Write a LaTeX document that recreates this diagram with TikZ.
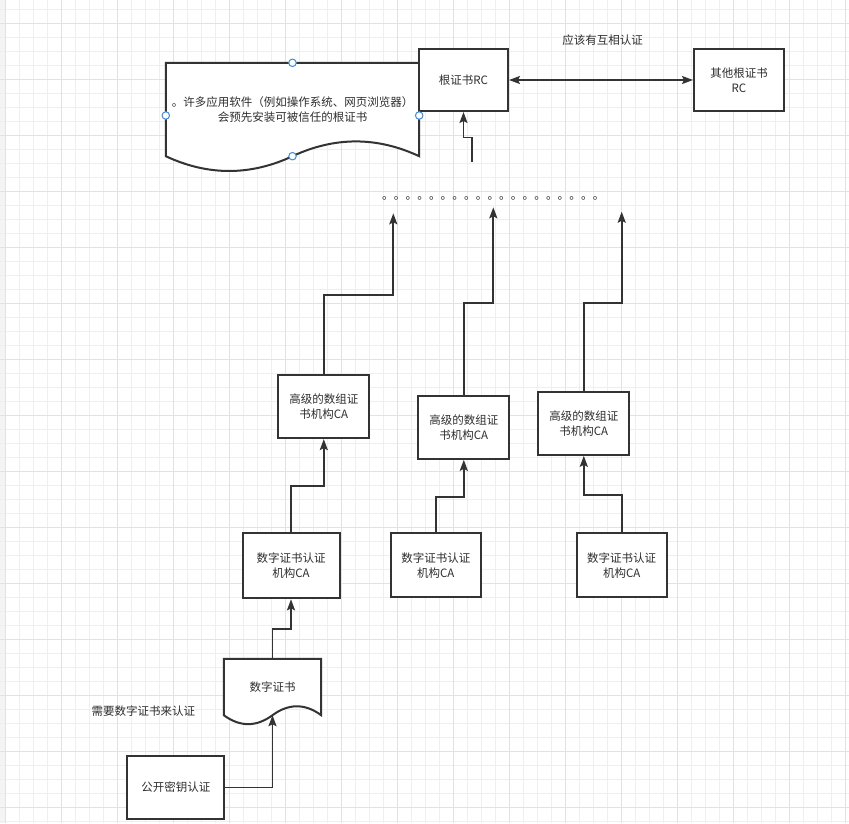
\documentclass[tikz,border=0pt]{standalone}
\usepackage{fontspec}
\setmainfont{Noto Sans CJK SC}
\usetikzlibrary{arrows.meta,positioning,calc}
\definecolor{ln}{HTML}{333333}
\definecolor{txt}{HTML}{2E2E2E}
\definecolor{gridmin}{HTML}{EFEFEF}
\definecolor{gridmaj}{HTML}{E2E2E2}
\definecolor{hb}{HTML}{3D8BE8}
\newcommand{\fsz}{\fontsize{11.5}{15}\selectfont}
\pgfdeclarelayer{grid}
\pgfdeclarelayer{shape}
\pgfsetlayers{grid,shape,main}
\tikzset{
  >={Stealth[length=11pt,width=8pt,inset=2pt]},
  cbox/.style={
    rectangle, draw=ln, line width=2pt, fill=white,
    text=txt, font=\fsz, align=center, inner sep=0pt
  },
  docbox/.style={
    rectangle, draw=none, text=txt, font=\fsz,
    align=center, inner sep=0pt
  },
  docline/.style={draw=ln, line width=2pt, fill=white},
  lbl/.style={text=txt, font=\fsz, inner sep=0pt},
  arr/.style={->, line width=1.8pt, draw=ln},
  darr/.style={<->, line width=1.8pt, draw=ln},
  handle/.style={
    circle, draw=hb, fill=white, line width=1pt,
    minimum size=7.5pt, inner sep=0pt
  },
  gmin/.style={draw=gridmin, line width=0.8pt},
  gmaj/.style={draw=gridmaj, line width=1pt}
}

\begin{document}
\begin{tikzpicture}[x=1pt, y=-1pt]
\useasboundingbox (0,0) rectangle (849,823);

% ── Background grid ───────────────────────────────────────────────
\begin{pgfonlayer}{grid}
\fill[white] (0,0) rectangle (849,823);
\fill[gridmin!70] (0,0) rectangle (5.3,823);
\foreach \k in {0,...,60}
  \draw[gmin] ({5.3+14*\k},0) -- ({5.3+14*\k},823);
\foreach \k in {0,...,58}
  \draw[gmin] (0,{9.3+14*\k}) -- (849,{9.3+14*\k});
\foreach \k in {0,...,15}
  \draw[gmaj] ({5.3+56*\k},0) -- ({5.3+56*\k},823);
\foreach \k in {0,...,14}
  \draw[gmaj] (0,{23.3+56*\k}) -- (849,{23.3+56*\k});
\end{pgfonlayer}

% ── Top row: trusted software, root certificates ──────────────────
\node[docbox, minimum width=253pt, minimum height=93pt] (trust) at (292.5,109.5)
  {。许多应用软件（例如操作系统、网页浏览器）\\会预先安装可被信任的根证书};
\begin{pgfonlayer}{shape}
\draw[docline] (trust.north west) -- (trust.north east) -- (trust.south east)
  .. controls +(-42.2,-19.7) and +(42.2,-19.7) .. (trust.south)
  .. controls +(-42.2,19.7) and +(42.2,19.7) .. (trust.south west) -- cycle;
\end{pgfonlayer}

\node[cbox, minimum width=89pt, minimum height=62pt] (root) at (463.5,80)
  {根证书RC};
\node[cbox, minimum width=90pt, minimum height=62pt] (otherroot) at (739,80)
  {其他根证书\\RC};
\node[lbl] (mutual) at (602.5,40) {应该有互相认证};

\draw[darr] (root.east) -- (otherroot.west);

% selection handles
\node[handle] (hn) at (trust.north) {};
\node[handle] (hw) at ($(trust.west)+(0,6)$) {};
\node[handle] (he) at ($(trust.east)+(0,6)$) {};
\node[handle] (hs) at (trust.south) {};

% ── Ellipsis row ──────────────────────────────────────────────────
\node[lbl, anchor=base west, font=\fontsize{11.7}{14}\selectfont] (dots) at (382,199)
  {。。。。。。。。。。。。。。。。。。。};
\coordinate (rootfoot) at (472.3,161.7);
\coordinate (up1) at (393.3,213.3);
\coordinate (up2) at (493.3,207.3);
\coordinate (up3) at (621.7,211.7);

% ── Higher-level CAs ──────────────────────────────────────────────
\node[cbox, minimum width=91pt, minimum height=63pt] (hca1) at (323.8,406.6)
  {高级的数组证\\书机构CA};
\node[cbox, minimum width=91pt, minimum height=63pt] (hca2) at (463.8,427.3)
  {高级的数组证\\书机构CA};
\node[cbox, minimum width=91pt, minimum height=63pt] (hca3) at (583.8,423.3)
  {高级的数组证\\书机构CA};

% ── Certificate authorities ───────────────────────────────────────
\node[cbox, minimum width=97pt, minimum height=65.6pt] (ca1) at (291,565.5)
  {数字证书认证\\机构CA};
\node[cbox, minimum width=90pt, minimum height=64pt] (ca2) at (435.8,565.3)
  {数字证书认证\\机构CA};
\node[cbox, minimum width=90pt, minimum height=64pt] (ca3) at (621.7,565.3)
  {数字证书认证\\机构CA};

% ── Bottom: certificate and public key ────────────────────────────
\node[docbox, minimum width=97pt, minimum height=56pt] (cert) at (272.5,687)
  {数字证书};
\begin{pgfonlayer}{shape}
\draw[docline] (cert.north west) -- (cert.north east) -- (cert.south east)
  .. controls +(-16.2,-11.9) and +(16.2,-11.9) .. (cert.south)
  .. controls +(-16.2,11.9) and +(16.2,11.9) .. (cert.south west) -- cycle;
\end{pgfonlayer}

\node[cbox, minimum width=97pt, minimum height=63.6pt] (pubkey) at (175.8,787.5)
  {公开密钥认证};
\node[lbl] (needlbl) at (143.3,710.7) {需要数字证书来认证};

% ── Flow arrows ────────────────────────────────────────────────────
\draw[arr] (pubkey.east) -| (cert.south);
\draw[arr] (cert.north) |- ($(ca1.south)+(0,30)$) -- (ca1.south);
\draw[arr] (ca1.north) |- ($(hca1.south)+(0,47)$) -- (hca1.south);
\draw[arr] (ca2.north) |- ($(hca2.south)+(0,37)$) -- (hca2.south);
\draw[arr] (ca3.north) |- ($(hca3.south)+(0,39.3)$) -- (hca3.south);
\draw[arr] (hca1.north) |- ($(up1)+(0,82)$) -- (up1);
\draw[arr] (hca2.north) |- ($(up2)+(0,96)$) -- (up2);
\draw[arr] (hca3.north) |- ($(up3)+(0,91)$) -- (up3);
\draw[arr] (rootfoot) |- ($(root.south)+(0,25.4)$) -- (root.south);

\end{tikzpicture}
\end{document}
